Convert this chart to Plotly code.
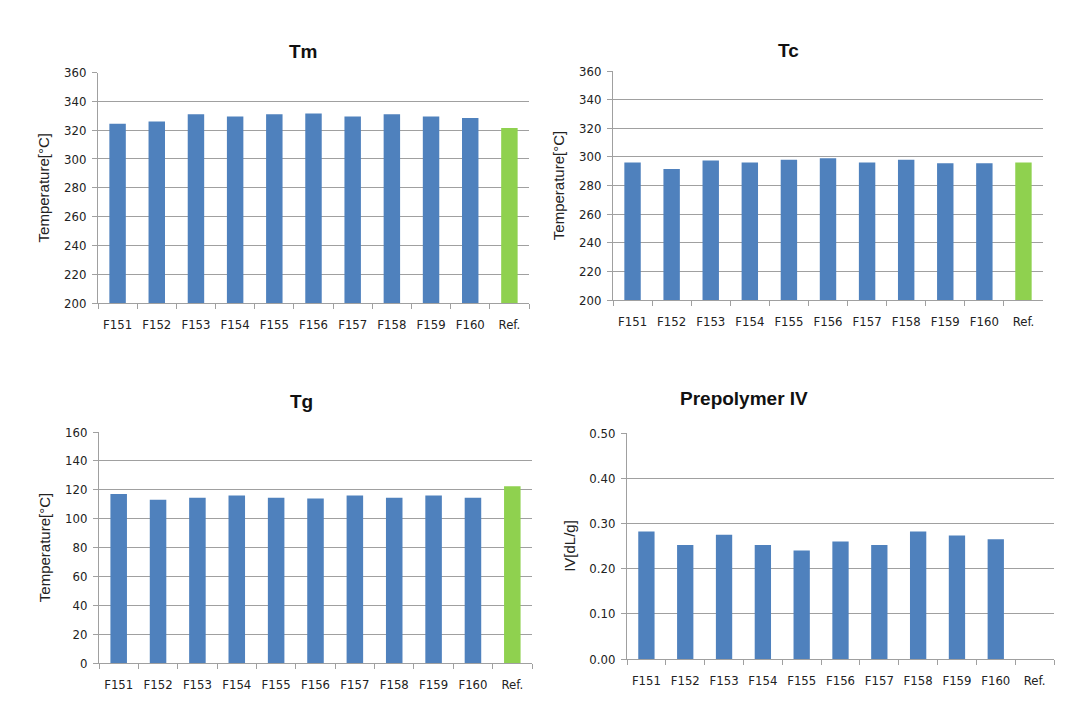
import plotly.graph_objects as go

categories = ["F151", "F152", "F153", "F154", "F155", "F156", "F157", "F158", "F159", "F160", "Ref."]
tm_values = [324.5, 326, 331, 329.5, 331, 331.5, 329.5, 331, 329.5, 328.5, 321.5]
tc_values = [296, 291.5, 297.5, 296, 298, 299, 296, 298, 295.5, 295.5, 296]
tg_values = [117, 113, 114.5, 116, 114.5, 114, 116, 114.5, 116, 114.5, 122.5]
iv_values = [0.282, 0.252, 0.275, 0.252, 0.240, 0.260, 0.252, 0.282, 0.273, 0.265, None]

panel_titles = ["Tm", "Tc", "Tg", "Prepolymer IV"]
y_titles = ["Temperature[°C]", "Temperature[°C]", "Temperature[°C]", "IV[dL/g]"]
y_ranges = [[200, 360], [200, 360], [0, 160], [0, 0.5]]
y_dticks = [20, 20, 20, 0.1]
y_formats = ["d", "d", "d", ".2f"]

BLUE = "#4F81BD"
GREEN = "#8FD14F"
W, H = 1074, 726

# pixel boxes: (x0, x1, ytop, ybottom)
boxes = [(98, 529, 72.5, 303), (613, 1043, 71, 300), (99, 532, 432, 663), (627, 1054, 433, 659)]
title_pos = [(287, 39), (801, 38), (288, 401), (810, 398)]

series = [tm_values, tc_values, tg_values, iv_values]
colors = [BLUE] * (len(categories) - 1) + [GREEN]

fig = go.Figure()
tick_fam = "Liberation Sans Narrow, DejaVu Sans Condensed, Liberation Sans, Arial, sans-serif"
grid = "#A0A0A0"

for i, vals in enumerate(series):
    ax = "" if i == 0 else str(i + 1)
    fig.add_trace(go.Bar(x=categories, y=vals, marker=dict(color=colors, line=dict(width=0)),
                         xaxis="x" + ax, yaxis="y" + ax, showlegend=False, width=0.42))
    x0, x1, yt, yb = boxes[i]
    fig.layout["xaxis" + ax] = dict(
        domain=[x0 / W, x1 / W], anchor="y" + ax, showline=True, linecolor=grid,
        ticks="outside", tickson="boundaries", ticklen=5, tickcolor=grid, automargin=False,
        ticklabelstandoff=9,
        tickfont=dict(family=tick_fam, size=13, color="#222"), showgrid=False,
    )
    fig.layout["yaxis" + ax] = dict(
        domain=[1 - yb / H, 1 - yt / H], anchor="x" + ax, range=y_ranges[i], dtick=y_dticks[i],
        tickformat=y_formats[i], showline=True, linecolor=grid, ticks="outside", ticklen=5,
        tickcolor=grid, showgrid=True, gridcolor=grid, gridwidth=1, zeroline=False, automargin=False,
        ticklabelstandoff=3,
        tickfont=dict(family=tick_fam, size=13, color="#222"),
        title=dict(text=y_titles[i], font=dict(family="Liberation Sans, Arial, sans-serif", size=15, color="#222"), standoff=10),
    )
    tx, ty = title_pos[i]
    fig.add_annotation(x=tx / W, y=1 - ty / H, xref="paper", yref="paper", text="<b>" + panel_titles[i] + "</b>",
                       showarrow=False, font=dict(family="Liberation Sans, Arial, sans-serif", size=19, color="#111"))

fig.update_layout(width=W, height=H, margin=dict(l=0, r=0, t=0, b=0, autoexpand=False), plot_bgcolor="white",
                  paper_bgcolor="white", bargap=0.58)
fig.write_html("out.html")
